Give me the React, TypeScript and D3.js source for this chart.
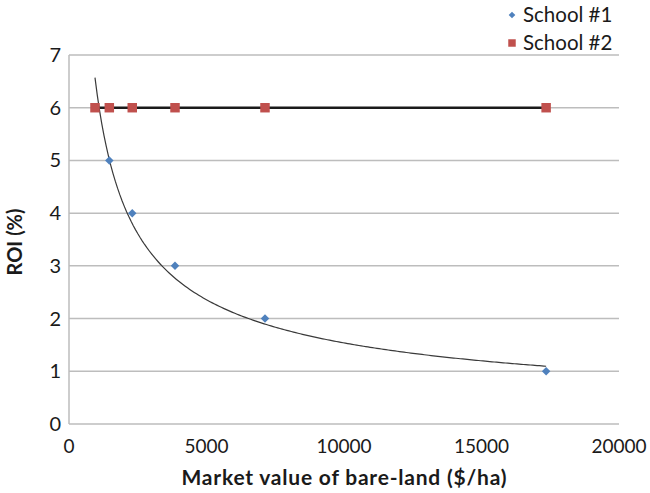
import React from "react";
import * as d3 from "d3";

// Market value of bare land ($/ha) at which each ROI level is reached
const landValues = [945, 1466, 2300, 3855, 7127, 17350];
const school1Roi = [6, 5, 4, 3, 2, 1];
const school2Roi = [6, 6, 6, 6, 6, 6];

const xTicks = [0, 5000, 10000, 15000, 20000];
const yTicks = [0, 1, 2, 3, 4, 5, 6, 7];
const seriesNames = ["School #1", "School #2"];

const W = 650;
const H = 493;
const FONT = "Lato, 'Open Sans', sans-serif";

export default function App() {
  const x = d3.scaleLinear().domain([0, 20000]).range([69, 619]);
  const y = d3.scaleLinear().domain([0, 7]).range([424, 55]);

  const s1 = landValues.map((v, i) => ({ x: v, y: school1Roi[i] }));
  const s2 = landValues.map((v, i) => ({ x: v, y: school2Roi[i] }));

  // Power trendline y = a * x^b fitted by least squares on log-log values
  const lx = s1.map((d) => Math.log(d.x));
  const ly = s1.map((d) => Math.log(d.y));
  const mx = d3.mean(lx) as number;
  const my = d3.mean(ly) as number;
  const sxy = d3.sum(lx.map((v, i) => (v - mx) * (ly[i] - my)));
  const sxx = d3.sum(lx.map((v) => (v - mx) * (v - mx)));
  const b = sxy / sxx;
  const a = Math.exp(my - b * mx);
  const [xmin, xmax] = d3.extent(landValues) as [number, number];
  const trend = d3.range(0, 201).map((i) => {
    const xv = xmin + ((xmax - xmin) * i) / 200;
    return { x: xv, y: a * Math.pow(xv, b) };
  });

  const line = d3
    .line<{ x: number; y: number }>()
    .x((d) => x(d.x))
    .y((d) => y(d.y));

  const square = d3.symbol().type(d3.symbolSquare).size(90)();
  const diamond = d3.symbol().type(d3.symbolSquare).size(36)();
  const legendSquare = d3.symbol().type(d3.symbolSquare).size(56)();
  const legendDiamond = d3.symbol().type(d3.symbolSquare).size(22)();

  return (
    <svg
      width={W}
      height={H}
      style={{ position: "absolute", left: 0, top: 0, background: "#fff" }}
      fontFamily={FONT}
    >
      {/* gridlines */}
      {yTicks.map((t) => (
        <line
          key={"g" + t}
          x1={x(0)}
          x2={x(20000)}
          y1={y(t)}
          y2={y(t)}
          stroke="#bdbdbd"
          strokeWidth={1.5}
        />
      ))}
      {/* vertical axis */}
      <line x1={x(0)} x2={x(0)} y1={y(0)} y2={y(7)} stroke="#bdbdbd" strokeWidth={1.5} />

      {/* y tick labels */}
      {yTicks.map((t) => (
        <text
          key={"yl" + t}
          x={x(0) - 8}
          y={y(t)}
          dy="0.35em"
          textAnchor="end"
          fontSize={20}
          fill="#1a1a1a"
        >
          {t}
        </text>
      ))}
      {/* x tick labels */}
      {xTicks.map((t) => (
        <text
          key={"xl" + t}
          x={x(t)}
          y={y(0) + 22}
          dy="0.35em"
          textAnchor="middle"
          fontSize={19}
          fill="#1a1a1a"
        >
          {t}
        </text>
      ))}

      {/* axis titles */}
      <text
        x={(x(0) + x(20000)) / 2}
        y={485}
        textAnchor="middle"
        fontSize={21}
        fontWeight="bold"
        fill="#1a1a1a"
        textLength={325}
        lengthAdjust="spacing"
      >
        Market value of bare-land ($/ha)
      </text>
      <text
        transform={`translate(22, ${242}) rotate(-90)`}
        textAnchor="middle"
        fontSize={20}
        fontWeight="bold"
        fill="#1a1a1a"
      >
        ROI (%)
      </text>

      {/* School #2 line */}
      <path d={line(s2) || ""} fill="none" stroke="#1a1a1a" strokeWidth={2.5} />
      {/* School #1 power trendline */}
      <path d={line(trend) || ""} fill="none" stroke="#3a3a3a" strokeWidth={1.2} />

      {/* School #1 markers */}
      {s1.map((d, i) => (
        <path
          key={"d" + i}
          d={diamond || ""}
          transform={`translate(${x(d.x)},${y(d.y)}) rotate(45)`}
          fill="#4f81bd"
        />
      ))}
      {/* School #2 markers */}
      {s2.map((d, i) => (
        <path
          key={"s" + i}
          d={square || ""}
          transform={`translate(${x(d.x)},${y(d.y)})`}
          fill="#c0504d"
        />
      ))}

      {/* legend */}
      <path d={legendDiamond || ""} transform="translate(512,15) rotate(45)" fill="#4f81bd" />
      <text x={523} y={15} dy="0.35em" fontSize={20.5} fill="#1a1a1a">
        {seriesNames[0]}
      </text>
      <path d={legendSquare || ""} transform="translate(512,43)" fill="#c0504d" />
      <text x={523} y={43} dy="0.35em" fontSize={20.5} fill="#1a1a1a">
        {seriesNames[1]}
      </text>
    </svg>
  );
}
